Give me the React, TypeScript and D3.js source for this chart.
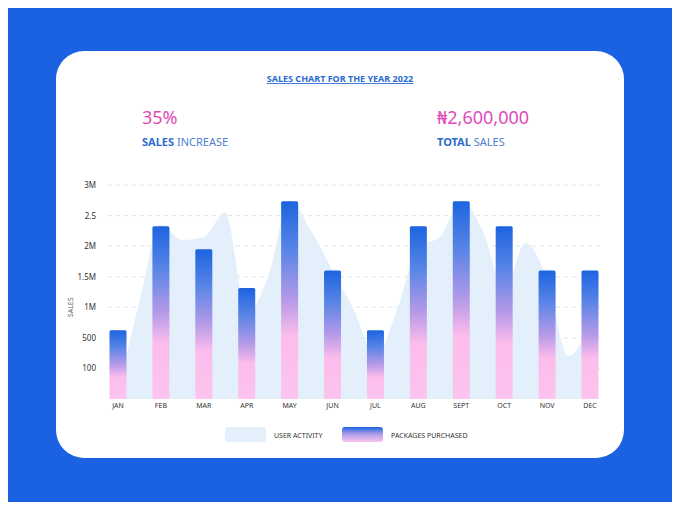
import { useEffect, useRef } from 'react';
import * as d3 from 'd3';

const months = ['JAN', 'FEB', 'MAR', 'APR', 'MAY', 'JUN', 'JUL', 'AUG', 'SEPT', 'OCT', 'NOV', 'DEC'];
const tickLabels = ['100', '500', '1M', '1.5M', '2M', '2.5', '3M'];
// bar heights in tick-slot units (0..7)
const packages = [2.25, 5.65, 4.9, 3.63, 6.47, 4.2, 2.25, 5.65, 6.47, 5.65, 4.2, 4.2];
// user activity area, sampled at every half month
const activity = [0.2, 3.2, 5.7, 5.2, 5.3, 6.1, 2.8, 4.0, 6.5, 5.5, 4.2, 2.9, 1.4, 2.9, 5.0, 5.3, 6.5, 5.5, 3.6, 5.1, 3.9, 1.4, 2.5];

export default function App() {
  const ref = useRef<SVGSVGElement>(null);
  const width = 680;
  const height = 510;

  useEffect(() => {
    if (!ref.current) return;
    const svg = d3.select(ref.current);
    svg.selectAll('*').remove();
    const font = "'Noto Sans', sans-serif";

    const defs = svg.append('defs');
    const grad = defs.append('linearGradient').attr('id', 'barGrad').attr('x1', 0).attr('y1', 0).attr('x2', 0).attr('y2', 1);
    grad.append('stop').attr('offset', '0%').attr('stop-color', '#1c64e0');
    grad.append('stop').attr('offset', '25%').attr('stop-color', '#5a85e6');
    grad.append('stop').attr('offset', '50%').attr('stop-color', '#b69ae8');
    grad.append('stop').attr('offset', '68%').attr('stop-color', '#fcbcec');
    grad.append('stop').attr('offset', '100%').attr('stop-color', '#fcc4ee');
    const lg = defs.append('linearGradient').attr('id', 'legGrad').attr('x1', 0).attr('y1', 0).attr('x2', 0).attr('y2', 1);
    lg.append('stop').attr('offset', '0%').attr('stop-color', '#1c64e0');
    lg.append('stop').attr('offset', '45%').attr('stop-color', '#a99be8');
    lg.append('stop').attr('offset', '100%').attr('stop-color', '#fcc4ee');

    svg.append('rect').attr('width', width).attr('height', height).attr('fill', '#1a62e2');
    svg.append('rect').attr('x', 56).attr('y', 51).attr('width', 568).attr('height', 407)
      .attr('rx', 28).attr('fill', '#fff');

    svg.append('text').attr('x', 340).attr('y', 82).attr('text-anchor', 'middle')
      .attr('font-family', font).attr('font-size', 9).attr('font-weight', 700)
      .attr('fill', '#2a6bd1').attr('text-decoration', 'underline').text('SALES CHART FOR THE YEAR 2022');

    const stat = (x: number, big: string, bold: string, rest: string) => {
      svg.append('text').attr('x', x).attr('y', 124).attr('font-family', font)
        .attr('font-size', 18).attr('fill', '#e04bb8').text(big);
      const t = svg.append('text').attr('x', x).attr('y', 146).attr('font-family', font)
        .attr('font-size', 11).attr('fill', '#2f6ccc');
      t.append('tspan').attr('font-weight', 700).text(bold);
      t.append('tspan').attr('fill', '#4f7fd0').text(rest);
    };
    stat(142, '35%', 'SALES', ' INCREASE');
    stat(437, '₦2,600,000', 'TOTAL', ' SALES');

    const x = d3.scaleLinear().domain([0, 11]).range([118, 590]);
    const y = d3.scaleLinear().domain([0, 7]).range([399, 185]);

    // grid
    svg.append('g').selectAll('line').data(tickLabels).join('line')
      .attr('x1', 108).attr('x2', 600)
      .attr('y1', (_, i) => y(i + 1)).attr('y2', (_, i) => y(i + 1))
      .attr('stroke', '#dfe3ea').attr('stroke-dasharray', '4,4');
    svg.append('g').selectAll('text').data(tickLabels).join('text')
      .attr('x', 96).attr('y', (_, i) => y(i + 1) + 3).attr('text-anchor', 'end')
      .attr('font-family', font).attr('font-size', 8).attr('fill', '#333').text(d => d);
    svg.append('text').attr('transform', `translate(73,${y(3)}) rotate(-90)`)
      .attr('text-anchor', 'middle').attr('font-family', font).attr('font-size', 7)
      .attr('fill', '#666').text('SALES');

    // area
    const area = d3.area<number>()
      .x((_, i) => x(i / 2))
      .y0(y(0))
      .y1(d => y(d))
      .curve(d3.curveMonotoneX);
    svg.append('path').datum(activity).attr('d', area).attr('fill', '#e3f0fc');

    // bars
    const bw = 17;
    svg.append('g').selectAll('rect').data(packages).join('rect')
      .attr('x', (_, i) => x(i) - bw / 2).attr('width', bw)
      .attr('y', d => y(d)).attr('height', d => y(0) - y(d))
      .attr('rx', 1.5).attr('fill', 'url(#barGrad)');

    svg.append('g').selectAll('text').data(months).join('text')
      .attr('x', (_, i) => x(i)).attr('y', 408).attr('text-anchor', 'middle')
      .attr('font-family', font).attr('font-size', 7).attr('fill', '#333').text(d => d);

    // legend
    svg.append('rect').attr('x', 225).attr('y', 427).attr('width', 41).attr('height', 15)
      .attr('rx', 3).attr('fill', '#e3f0fc');
    svg.append('text').attr('x', 274).attr('y', 438).attr('font-family', font)
      .attr('font-size', 7).attr('fill', '#333').text('USER ACTIVITY');
    svg.append('rect').attr('x', 342).attr('y', 427).attr('width', 41).attr('height', 15)
      .attr('rx', 3).attr('fill', 'url(#legGrad)');
    svg.append('text').attr('x', 391).attr('y', 438).attr('font-family', font)
      .attr('font-size', 7).attr('fill', '#333').text('PACKAGES PURCHASED');
  }, []);

  return <svg ref={ref} width={width} height={height} style={{ display: 'block', margin: -8 }} />;
}
